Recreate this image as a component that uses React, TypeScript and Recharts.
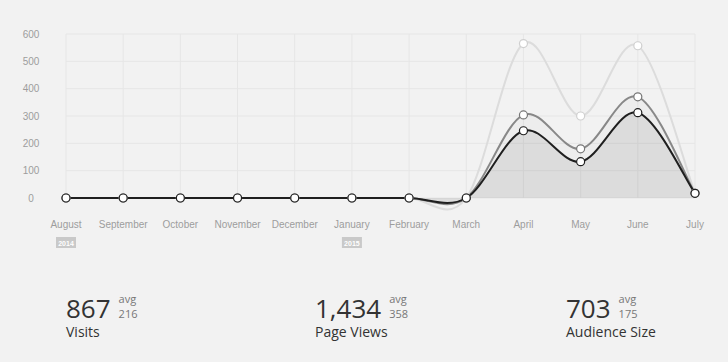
import React from 'react';
import { AreaChart, Area, XAxis, YAxis, CartesianGrid } from 'recharts';

const months = ['August', 'September', 'October', 'November', 'December', 'January', 'February', 'March', 'April', 'May', 'June', 'July'];
const years = ['2014', '', '', '', '', '2015', '', '', '', '', '', ''];
const pageViews = [0, 0, 0, 0, 0, 0, 0, 0, 565, 300, 557, 17];
const visits = [0, 0, 0, 0, 0, 0, 0, 0, 304, 180, 370, 17];
const audience = [0, 0, 0, 0, 0, 0, 0, 0, 246, 133, 312, 17];
const yTicks = [0, 100, 200, 300, 400, 500, 600];
const gridSteps = [0, 1, 2, 3, 4, 5, 6, 7, 8, 9, 10];

const statTotals = ['867', '1,434', '703'];
const statAvgs = ['216', '358', '175'];
const statLabels = ['Visits', 'Page Views', 'Audience Size'];

const data = months.map((m, i) => ({
  month: m,
  pageViews: pageViews[i],
  visits: visits[i],
  audience: audience[i],
}));

// Catmull-Rom style cardinal spline (like Chartist's cardinal interpolation)
class CardinalCurve {
  _context: any;
  _line: any;
  _pts: number[][] = [];
  constructor(ctx: any) {
    this._context = ctx;
  }
  areaStart() {
    this._line = 0;
  }
  areaEnd() {
    this._line = NaN;
  }
  lineStart() {
    this._pts = [];
  }
  lineEnd() {
    const p = this._pts;
    const c = this._context;
    if (p.length) {
      if (this._line) c.lineTo(p[0][0], p[0][1]);
      else c.moveTo(p[0][0], p[0][1]);
      for (let i = 0; i < p.length - 1; i++) {
        const p0 = p[i - 1] || p[i];
        const p1 = p[i];
        const p2 = p[i + 1];
        const p3 = p[i + 2] || p[i + 1];
        c.bezierCurveTo(
          p1[0] + (p2[0] - p0[0]) / 6,
          p1[1] + (p2[1] - p0[1]) / 6,
          p2[0] - (p3[0] - p1[0]) / 6,
          p2[1] - (p3[1] - p1[1]) / 6,
          p2[0],
          p2[1]
        );
      }
    }
    if (this._line || (this._line !== 0 && p.length === 1)) c.closePath();
    this._line = 1 - this._line;
  }
  point(x: number, y: number) {
    this._pts.push([+x, +y]);
  }
}
const cardinal: any = (ctx: any) => new CardinalCurve(ctx);

const labelFont = '"Liberation Sans", Arial, Helvetica, sans-serif';

const XTick = (props: any) => {
  const { x, y, payload } = props;
  const idx = months.indexOf(payload.value);
  const yr = years[idx];
  return (
    <g>
      <text x={x} y={y + 30} textAnchor="middle" fontSize={10} fill="#9d9d9d" fontFamily={labelFont}>
        {payload.value}
      </text>
      {yr ? (
        <g>
          <rect x={x - 10} y={y + 39} width={20} height={11} fill="#c9c9c9" />
          <text x={x} y={y + 47.5} textAnchor="middle" fontSize={7} fontWeight="bold" fill="#ffffff" fontFamily={labelFont}>
            {yr}
          </text>
        </g>
      ) : null}
    </g>
  );
};

const YTick = (props: any) => {
  const { x, y, payload } = props;
  return (
    <text x={x - 35} y={y + 3.5} textAnchor="middle" fontSize={10} fill="#9d9d9d" fontFamily={labelFont}>
      {payload.value}
    </text>
  );
};

const statLefts = [66, 315, 566];

export default function App() {
  return (
    <div style={{ position: 'relative', width: 728, height: 362, background: '#f2f2f2', overflow: 'hidden' }}>
      <style>{'body{margin:0;background:#f2f2f2;}'}</style>
      <AreaChart width={728} height={262} data={data} margin={{ top: 34, right: 33, left: 0, bottom: 0 }}>
        <XAxis xAxisId="grid" type="number" domain={[0, 10]} ticks={gridSteps} hide allowDataOverflow />
        <CartesianGrid xAxisId="grid" stroke="#e6e6e6" strokeWidth={1} />
        <XAxis
          dataKey="month"
          height={64}
          tickLine={false}
          axisLine={false}
          tickSize={0}
          tickMargin={0}
          interval={0}
          tick={<XTick />}
        />
        <YAxis
          width={66}
          domain={[0, 600]}
          ticks={yTicks}
          tickLine={false}
          axisLine={false}
          tickSize={0}
          tickMargin={0}
          tick={<YTick />}
        />
        <Area
          dataKey="pageViews"
          type={cardinal}
          stroke="#dcdcdc"
          strokeWidth={2}
          fill="#000"
          fillOpacity={0}
          isAnimationActive={false}
          dot={{ r: 4, fill: '#fff', fillOpacity: 1, stroke: '#cfcfcf', strokeWidth: 1.2 }}
          activeDot={false}
        />
        <Area
          dataKey="visits"
          type={cardinal}
          stroke="#888888"
          strokeWidth={2}
          fill="#000"
          fillOpacity={0.02}
          isAnimationActive={false}
          dot={{ r: 4, fill: '#fff', fillOpacity: 1, stroke: '#777', strokeWidth: 1.2 }}
          activeDot={false}
        />
        <Area
          dataKey="audience"
          type={cardinal}
          stroke="#1f1f1f"
          strokeWidth={2}
          fill="#000"
          fillOpacity={0.07}
          isAnimationActive={false}
          dot={{ r: 4, fill: '#fff', fillOpacity: 1, stroke: '#1f1f1f', strokeWidth: 1.2 }}
          activeDot={false}
        />
      </AreaChart>
      {statTotals.map((t, i) => (
        <div key={i} style={{ position: 'absolute', left: statLefts[i], top: 0, fontFamily: '"Open Sans", sans-serif' }}>
          <div style={{ position: 'absolute', left: 0, top: 295, display: 'flex', alignItems: 'flex-start', whiteSpace: 'nowrap' }}>
            <span style={{ fontSize: 26, lineHeight: '26px', color: '#333' }}>{t}</span>
            <span style={{ display: 'flex', flexDirection: 'column', marginLeft: 8, marginTop: -4, fontSize: 11, lineHeight: '15px', color: '#777' }}>
              <span>avg</span>
              <span>{statAvgs[i]}</span>
            </span>
          </div>
          <div style={{ position: 'absolute', left: 0, top: 323, fontSize: 14, lineHeight: '17px', color: '#333', whiteSpace: 'nowrap' }}>
            {statLabels[i]}
          </div>
        </div>
      ))}
    </div>
  );
}
